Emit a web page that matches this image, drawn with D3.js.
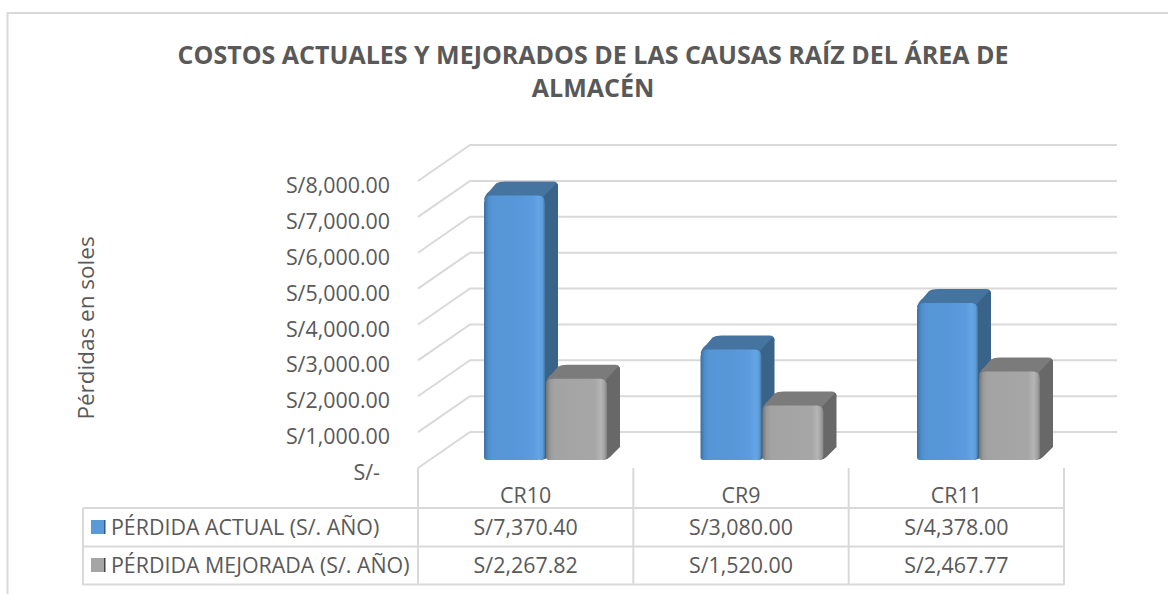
<!DOCTYPE html>
<html><head><meta charset="utf-8">
<script src="https://cdn.jsdelivr.net/npm/d3@7/dist/d3.min.js"></script>
<style>html,body{margin:0;padding:0;background:#fff}svg{display:block}text{font-family:"Open Sans",Lato,sans-serif;fill:#595959}</style>
</head><body><svg id="c" width="1168" height="594"></svg>
<script>
const categories = ["CR10","CR9","CR11"];
const seriesNames = ["PÉRDIDA ACTUAL (S/. AÑO)","PÉRDIDA MEJORADA (S/. AÑO)"];
const actual = [7370.40,3080.00,4378.00];
const improved = [2267.82,1520.00,2467.77];
const actualLabels = ["S/7,370.40","S/3,080.00","S/4,378.00"];
const improvedLabels = ["S/2,267.82","S/1,520.00","S/2,467.77"];
const tickValues = [0,1000,2000,3000,4000,5000,6000,7000,8000];
const tickLabels = ["S/-","S/1,000.00","S/2,000.00","S/3,000.00","S/4,000.00","S/5,000.00","S/6,000.00","S/7,000.00","S/8,000.00"];
const titleLines = ["COSTOS ACTUALES Y MEJORADOS DE LAS CAUSAS RAÍZ DEL ÁREA DE","ALMACÉN"];
const yTitle = "Pérdidas en soles";

const svg = d3.select("#c");
const defs = svg.append("defs");
function grad(id, stops){
  const g = defs.append("linearGradient").attr("id",id).attr("x1",0).attr("x2",1).attr("y1",0).attr("y2",0);
  stops.forEach(s=>g.append("stop").attr("offset",s[0]).attr("stop-color",s[1]));
}
grad("blue",[[0,"#3a6f9f"],[0.07,"#4f8ecb"],[0.14,"#5796d6"],[0.5,"#5797d8"],[0.8,"#5c9cde"],[0.9,"#64a5e6"],[0.96,"#5d9bd8"],[1,"#44779f"]]);
grad("gray",[[0,"#757575"],[0.07,"#9a9a9a"],[0.14,"#a3a3a3"],[0.5,"#a5a5a5"],[0.8,"#a6a6a6"],[0.9,"#b5b5b5"],[0.96,"#a0a0a0"],[1,"#808080"]]);

const grid="#d9d9d9";
// frame
svg.append("path").attr("d","M7.5,594V13H1168").attr("fill","none").attr("stroke",grid).attr("stroke-width",2);

const y = d3.scaleLinear().domain([0,8000]).range([468,181]);
const x = d3.scaleBand().domain(categories).range([418,1064]);
const xBars = d3.scaleBand().domain(categories).range([418,1067.5]);
const depthX = 52, depthY = 36;

// gridlines
const gg = svg.append("g").attr("fill","none").attr("stroke",grid).attr("stroke-width",2);
gg.selectAll("path").data(tickValues).join("path")
  .attr("d",d=>{
    const v = y(d);
    return `M${418},${v}L${418+depthX},${v-depthY}H1117`;
  });

// bars
const barW = 61, gap = 1, inset = 66, dx = 13, dy = 14, floorOffset = 8;
const yBar = v => y(v) - floorOffset;
function bar(g, cx, v, fill, top, side){
  const t = yBar(v), b = yBar(0), r = 7, x0 = cx, x1 = cx + barW;
  g.append("path").attr("fill",top)
   .attr("d",`M${x0},${t+4}Q${x0+1},${t-1} ${x0+6},${t-5}L${x0+dx-1},${t-dy+2}Q${x0+dx+2},${t-dy} ${x0+dx+8},${t-dy}H${x1+dx-5}Q${x1+dx},${t-dy} ${x1+dx},${t-dy+5}L${x1},${t+4}Z`);
  g.append("path").attr("fill",side)
   .attr("d",`M${x1-3},${t+3}L${x1+dx-2},${t-dy+2}Q${x1+dx},${t-dy+1} ${x1+dx},${t-dy+6}V${b-dy+1}L${x1+3},${b-3}Q${x1},${b} ${x1-4},${b}Z`);
  g.append("path").attr("fill",`url(#${fill})`)
   .attr("d",`M${x0},${t+r}Q${x0},${t} ${x0+r},${t}H${x1-r}Q${x1},${t} ${x1},${t+r}V${b-4}Q${x1},${b} ${x1-r},${b}H${x0+3}Q${x0},${b} ${x0},${b-3}Z`);
}
const bars = svg.append("g");
categories.forEach((c,i)=>{
  const sx = xBars(c)+inset;
  bar(bars, sx, actual[i], "blue", "#44749f", "#3a638a");
  bar(bars, sx+barW+gap, improved[i], "gray", "#7b7b7b", "#686868");
});

const labelSize = 21.4;
// y tick labels
svg.append("g").selectAll("text").data(tickValues).join("text")
  .attr("y",d=>y(d)+12).attr("text-anchor","end")
  .attr("font-size",labelSize).text((d,i)=>tickLabels[i])
  .attr("x",(d,i)=> i===0 ? 380 : 390);

// y title
svg.append("text").attr("transform","translate(94,328) rotate(-90)").attr("text-anchor","middle")
  .attr("font-size",22.5).text(yTitle);

// title
svg.append("g").selectAll("text").data(titleLines).join("text")
  .attr("x",593).attr("y",(d,i)=>64+i*33).attr("text-anchor","middle")
  .attr("font-size",25).attr("font-weight",700).text(d=>d);

// data table
const rows = [508,546.5,584.5];
const tl = svg.append("g").attr("stroke",grid).attr("stroke-width",2).attr("fill","none");
rows.forEach(r=>tl.append("line").attr("x1",83).attr("x2",1064).attr("y1",r).attr("y2",r));
tl.append("line").attr("x1",83).attr("x2",83).attr("y1",508).attr("y2",585);
[418].concat(categories.map(c=>x(c)+x.bandwidth())).forEach(vx=>
  tl.append("line").attr("x1",vx).attr("x2",vx).attr("y1",468).attr("y2",585));

svg.append("g").selectAll("text").data(categories).join("text")
  .attr("x",c=>x(c)+x.bandwidth()/2).attr("y",503).attr("text-anchor","middle").attr("font-size",labelSize).text(d=>d);
[actualLabels,improvedLabels].forEach((arr,ri)=>{
  svg.append("g").selectAll("text").data(arr).join("text")
    .attr("x",(d,i)=>x(categories[i])+x.bandwidth()/2).attr("y",[535,573][ri])
    .attr("text-anchor","middle").attr("font-size",labelSize).text(d=>d);
  svg.append("text").attr("x",111).attr("y",[535,573][ri]).attr("font-size",labelSize).text(seriesNames[ri]);
  const ly=[520,558][ri];
  svg.append("rect").attr("x",91).attr("y",ly).attr("width",14).attr("height",14).attr("fill",ri?"#a5a5a5":"#5b9bd5");
  svg.append("rect").attr("x",104).attr("y",ly).attr("width",1.5).attr("height",14).attr("fill",ri?"#444":"#2f5c86");
});
</script></body></html>
